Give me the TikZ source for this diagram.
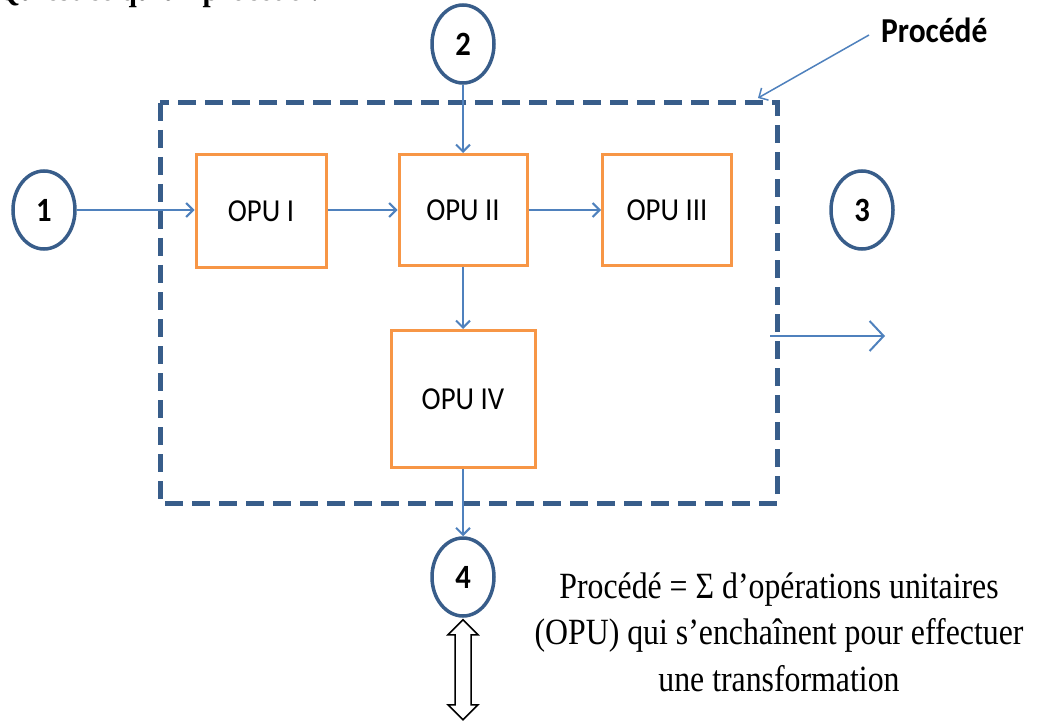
\documentclass[tikz,border=0pt]{standalone}
\usepackage{fontspec}
\setmainfont{Liberation Serif}
\newfontfamily\notefont[FakeStretch=0.86]{Liberation Serif}
\newfontfamily\opufont[FakeStretch=0.9]{Carlito}
\usetikzlibrary{shapes.geometric,arrows.meta}
\definecolor{opuorange}{RGB}{247,150,70}
\definecolor{frameblue}{RGB}{56,93,138}
\definecolor{flowblue}{RGB}{79,129,189}

\begin{document}
\begin{tikzpicture}[x=1pt, y=-1pt,
        opu/.style={draw=opuorange, line width=3pt, inner sep=0pt,
          font=\opufont\fontsize{32}{36}\selectfont},
        stream/.style={draw=frameblue, line width=3.5pt, ellipse, inner sep=0pt,
          minimum width=62pt, minimum height=78pt,
          font=\opufont\bfseries\fontsize{34}{36}\selectfont},
        flow/.style={draw=flowblue, line width=2pt, -{Straight Barb[length=7pt,width=14pt]}}
        ]
        \useasboundingbox (0,0) rectangle (1038,727);
        \clip (0,0) rectangle (1038,727);
        \node [anchor=base west, inner sep=0pt, font=\notefont\bfseries\fontsize{34}{40}\selectfont]
          at (-3,1) {Qu’est ce qu’un procédé ?};
        % the process frame
        \draw [frameblue, line width=5pt, dash pattern=on 18pt off 9pt] (160,103) rectangle (777,503);
        \coordinate (frametip) at (758,98);
        \node [name=proclabel, anchor=west, inner sep=0pt, font=\opufont\bfseries\fontsize{35}{36}\selectfont]
          at (881,30) {Procédé};
        \draw [flow, line width=1.5pt] ([shift={(-12pt,-5pt)}]proclabel.west) -- (frametip);
        % unit operations
        \node [opu, name=opuA, minimum width=130pt, minimum height=113pt] at (261,211) {OPU I};
        \node [opu, name=opuB, minimum width=128pt, minimum height=111pt] at (463,210) {OPU II};
        \node [opu, name=opuC, minimum width=129pt, minimum height=111pt] at (667,210) {OPU III};
        \node [opu, name=opuD, minimum width=144pt, minimum height=137pt] at (463,399) {OPU IV};
        % streams
        \node [stream, name=sA] at (44,210) {1};
        \node [stream, name=sB] at (463,44) {2};
        \node [stream, name=sC] at (862,210) {3};
        \node [stream, name=sD] at (463,577) {4};
        \draw [flow] (sA) -- (sA -| opuA.west);
        \draw [flow] (opuA.east |- sA) -- (opuB.west |- sA);
        \draw [flow] (opuB.east |- sA) -- (opuC.west |- sA);
        \draw [flow] (sB) -- (opuB);
        \draw [flow] (opuB) -- (opuD);
        \draw [flow] (opuD) -- (sD);
        \coordinate (outA) at (770,336);
        \coordinate (outB) at (885,336);
        \draw [flow, -{Straight Barb[length=14pt,width=30pt]}] (outA) -- (outB);
        % exchange below stream 4
        \draw [line width=1.5pt, fill=white] (sD.south) ++(0,2) -- ++(15,15) -- ++(-7,0) -- ++(0,70)
          -- ++(7,0) -- ++(-15,15) -- ++(-15,-15) -- ++(7,0) -- ++(0,-70) -- ++(-7,0) -- cycle;
        \node [name=note, align=center, font=\notefont\fontsize{37}{46.5}\selectfont] at (779,632)
          {Procédé = Σ d’opérations unitaires\\(OPU) qui s’enchaînent pour effectuer\\une transformation};
\end{tikzpicture}
\end{document}
